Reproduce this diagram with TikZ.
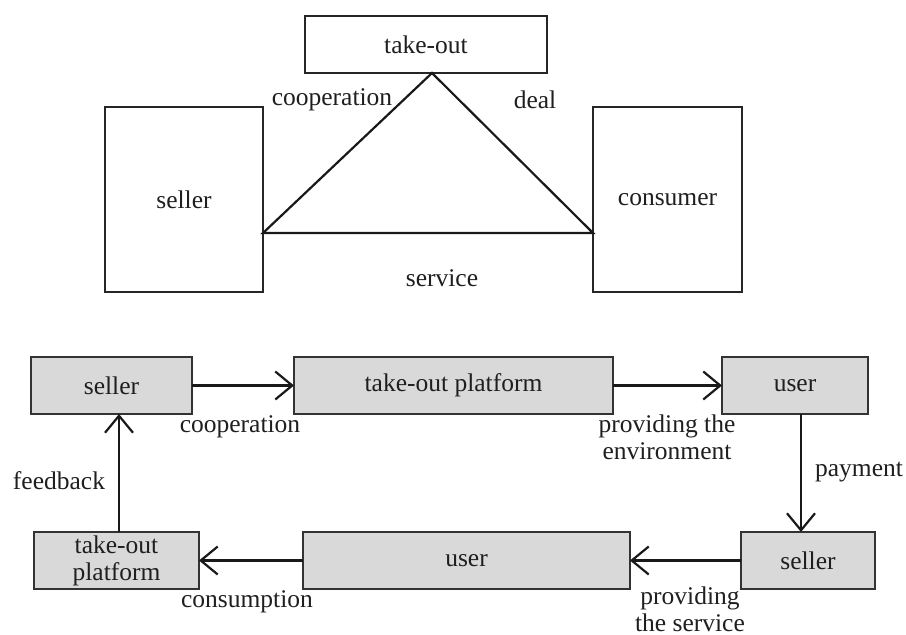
\documentclass[tikz,border=0pt]{standalone}
\usepackage{fontspec}
\setmainfont{Liberation Serif}
\usetikzlibrary{arrows.meta}
\begin{document}
\begin{tikzpicture}[x=1pt,y=-1pt,
  every node/.style={font=\fontsize{25.5}{27}\selectfont, text=black!88, inner sep=0pt, outer sep=0pt},
  wbox/.style={draw=black!85, line width=2.2pt, fill=white},
  gbox/.style={draw=black!80, line width=2.2pt, fill=black!15, align=center, minimum height=57pt},
  link/.style={draw=black!90, line width=2.2pt},
  arr/.style={link, -{Straight Barb[length=17pt, width=28pt, line width=2.2pt]}},
  lbl/.style={align=center}]
\useasboundingbox (0,0) rectangle (906,635);
% ---- top triangle diagram ----
\node[wbox, minimum width=242pt, minimum height=57pt] (takeout) at (426,44.5) {take-out};
\node[wbox, minimum width=158pt, minimum height=185pt] (sellerT) at (184,199.5) {seller};
\node[wbox, minimum width=149pt, minimum height=185pt] (consumer) at (667.5,199.5) {consumer};
\coordinate (apex) at ([xshift=6pt]takeout.south);
\coordinate (ybase) at (0,233);
\coordinate (sl) at (sellerT.east |- ybase);
\coordinate (cr) at (consumer.west |- ybase);
\draw[link, line join=miter] (sl) -- (apex) -- (cr) -- cycle;
\node[lbl] (lcoopT) at (332,100) {cooperation};
\node[lbl] (ldeal) at (535,100) {deal};
\node[lbl] (lservice) at (442,278) {service};
% ---- bottom cycle diagram ----
\node[gbox, minimum width=161pt] (s1) at (111.5,385.5) {seller};
\node[gbox, minimum width=319pt] (p1) at (453.5,385.5) {take-out platform};
\node[gbox, minimum width=146pt] (u1) at (795,385.5) {user};
\node[gbox, minimum width=134pt] (s2) at (808,560.5) {seller};
\node[gbox, minimum width=327pt] (u2) at (466.5,560.5) {user};
\node[gbox, minimum width=165pt] (p2) at (116.5,560.5) {take-out\\platform};
\coordinate (xdown) at (801,0);
\coordinate (xup) at (119,0);
\draw[arr] (s1.east) -- (p1.west);
\draw[arr] (p1.east) -- (u1.west);
\draw[arr] (u1.south -| xdown) -- (s2.north -| xdown);
\draw[arr] (s2.west) -- (u2.east);
\draw[arr] (u2.west) -- (p2.east);
\draw[arr] (p2.north -| xup) -- (s1.south -| xup);
\node[lbl] (lcoop) at (240,427) {cooperation};
\node[lbl] (lenv) at (667,437) {providing the\\environment};
\node[lbl] (lpay) at (859,472) {payment};
\node[lbl] (lfeed) at (59,481) {feedback};
\node[lbl] (lcons) at (247,602) {consumption};
\node[lbl] (lserv) at (690,609) {providing\\the service};
\end{tikzpicture}
\end{document}
